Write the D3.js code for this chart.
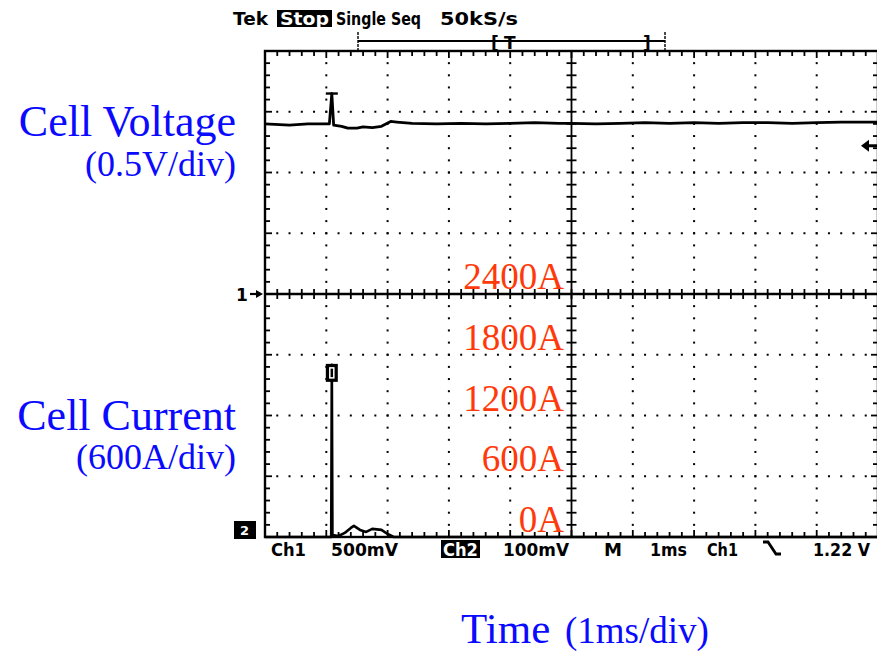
<!DOCTYPE html>
<html lang="en">
<head>
<meta charset="utf-8">
<title>Cell voltage and current</title>
<script src="https://d3js.org/d3.v7.min.js"></script>
<style>
* { margin: 0; padding: 0; }
body { background: #fff; }
svg { display: block; }
.scope { font-family: 'DejaVu Sans', sans-serif; font-weight: bold; font-size: 17px; }
.label { font-family: 'Liberation Serif', 'Times New Roman', serif; }
</style>
</head>
<body>
<script>
let w = 877, h = 652;
let plotLeft = 265, plotRight = 878, plotTop = 51, plotBottom = 537;

// screen is 10 x 8 divisions
let timeDomain = [0, 10];        // ms, 1ms/div
let voltDomain = [-2, 2];        // ch1, 0.5V/div, ground on centre line
let currentDomain = [0, 4800];   // ch2, 600A/div, 0A on bottom line

// ch1 - cell voltage (V)
let voltTime   = [0, 0.4, 0.7, 1.05, 1.09, 1.12, 1.25, 1.35, 1.5, 1.6, 1.75, 1.9, 2.05, 2.15, 2.4, 2.8, 3.2, 3.6, 4.0, 4.4, 4.8, 5.0, 5.4, 5.8, 6.2, 6.6, 7.0, 7.4, 7.8, 8.2, 8.6, 9.0, 9.4, 10];
let voltValues = [1.40, 1.39, 1.40, 1.40, 1.65, 1.39, 1.38, 1.365, 1.365, 1.375, 1.37, 1.38, 1.42, 1.415, 1.405, 1.40, 1.405, 1.40, 1.405, 1.41, 1.405, 1.405, 1.40, 1.405, 1.41, 1.405, 1.41, 1.405, 1.41, 1.41, 1.405, 1.41, 1.415, 1.415];

// ch2 - cell current (A)
let currentTime   = [0, 1.08, 1.09, 1.10, 1.2, 1.3, 1.4, 1.45, 1.55, 1.65, 1.75, 1.9, 2.0, 2.1, 10];
let currentValues = [0, 0, 1700, 20, 10, 40, 90, 110, 70, 50, 80, 70, 30, 0, 0];

let currentLabels = [0, 600, 1200, 1800, 2400];
let triggerLevel = 1.22; // V

let blue = "#0a0aff";
let red = "#ff3a0a";

let x = d3.scaleLinear().domain(timeDomain).range([plotLeft, plotRight]);
let xDiv = d3.scaleLinear().domain([0, 10]).range([plotLeft, plotRight]);
let yDiv = d3.scaleLinear().domain([-4, 4]).range([plotBottom, plotTop]);
let yV = d3.scaleLinear().domain(voltDomain).range([plotBottom, plotTop]);
let yI = d3.scaleLinear().domain(currentDomain).range([plotBottom, plotTop]);

let svg = d3.select("body").append("svg")
    .attr("width", w)
    .attr("height", h);

// ---- graticule ----
let grid = svg.append("g");
let minorX = d3.range(0, 51).map(i => i * 0.2);
let minorY = d3.range(0, 41).map(i => -4 + i * 0.2);

// dotted division lines
[1, 2, 3, 4, 6, 7, 8, 9].forEach(k => {
  grid.append("g").selectAll("rect")
    .data(minorY.slice(1, -1))
    .enter().append("rect")
    .attr("x", xDiv(k) - 1).attr("y", d => yDiv(d) - 1)
    .attr("width", 2).attr("height", 2).attr("fill", "#000");
});
[-3, -2, -1, 1, 2, 3].forEach(k => {
  grid.append("g").selectAll("rect")
    .data(minorX.slice(1, -1))
    .enter().append("rect")
    .attr("x", d => xDiv(d) - 1).attr("y", yDiv(k) - 1)
    .attr("width", 2).attr("height", 2).attr("fill", "#000");
});

// centre cross with ticks
grid.append("line")
  .attr("x1", xDiv(5)).attr("x2", xDiv(5)).attr("y1", plotTop).attr("y2", plotBottom)
  .attr("stroke", "#000").attr("stroke-width", 1.8);
grid.append("line")
  .attr("x1", plotLeft).attr("x2", plotRight).attr("y1", yDiv(0)).attr("y2", yDiv(0))
  .attr("stroke", "#000").attr("stroke-width", 2.4);
grid.append("g").selectAll("line")
  .data(minorY)
  .enter().append("line")
  .attr("x1", xDiv(5) - 5).attr("x2", xDiv(5) + 5)
  .attr("y1", d => yDiv(d)).attr("y2", d => yDiv(d))
  .attr("stroke", "#000").attr("stroke-width", 1.8);
grid.append("g").selectAll("line")
  .data(minorX)
  .enter().append("line")
  .attr("x1", d => xDiv(d)).attr("x2", d => xDiv(d))
  .attr("y1", yDiv(0) - 5).attr("y2", yDiv(0) + 5)
  .attr("stroke", "#000").attr("stroke-width", 1.8);

// border with inward ticks
grid.append("rect")
  .attr("x", plotLeft).attr("y", plotTop)
  .attr("width", plotRight - plotLeft).attr("height", plotBottom - plotTop)
  .attr("fill", "none").attr("stroke", "#000").attr("stroke-width", 2.4);
function tickLen(d) { return Math.abs(d - Math.round(d)) < 1e-6 ? 7 : 5; }
grid.append("g").selectAll("line")
  .data(minorX)
  .enter().append("line")
  .attr("x1", d => xDiv(d)).attr("x2", d => xDiv(d))
  .attr("y1", plotTop).attr("y2", d => plotTop + tickLen(d))
  .attr("stroke", "#000").attr("stroke-width", 1.8);
grid.append("g").selectAll("line")
  .data(minorX)
  .enter().append("line")
  .attr("x1", d => xDiv(d)).attr("x2", d => xDiv(d))
  .attr("y1", plotBottom).attr("y2", d => plotBottom - tickLen(d))
  .attr("stroke", "#000").attr("stroke-width", 1.8);
grid.append("g").selectAll("line")
  .data(minorY)
  .enter().append("line")
  .attr("x1", plotLeft).attr("x2", d => plotLeft + tickLen(d))
  .attr("y1", d => yDiv(d)).attr("y2", d => yDiv(d))
  .attr("stroke", "#000").attr("stroke-width", 1.8);
grid.append("g").selectAll("line")
  .data(minorY)
  .enter().append("line")
  .attr("x1", plotRight).attr("x2", d => plotRight - tickLen(d))
  .attr("y1", d => yDiv(d)).attr("y2", d => yDiv(d))
  .attr("stroke", "#000").attr("stroke-width", 1.8);

// ---- traces ----
let voltLine = d3.line().x(d => x(d[0])).y(d => yV(d[1]));
let currentLine = d3.line().x(d => x(d[0])).y(d => yI(d[1]));

svg.append("path")
  .datum(d3.zip(voltTime, voltValues))
  .attr("d", voltLine)
  .attr("fill", "none").attr("stroke", "#000")
  .attr("stroke-width", 2.8).attr("stroke-linejoin", "round");

// cap on the voltage spike
let vPeak = d3.maxIndex(voltValues);
svg.append("line")
  .attr("x1", x(voltTime[vPeak]) - 6).attr("x2", x(voltTime[vPeak]) + 6)
  .attr("y1", yV(voltValues[vPeak])).attr("y2", yV(voltValues[vPeak]))
  .attr("stroke", "#000").attr("stroke-width", 2.4);

svg.append("path")
  .datum(d3.zip(currentTime, currentValues))
  .attr("d", currentLine)
  .attr("fill", "none").attr("stroke", "#000")
  .attr("stroke-width", 2.6).attr("stroke-linejoin", "round");

// marker box at the current peak
let iPeak = d3.maxIndex(currentValues);
let px = x(currentTime[iPeak]), py = yI(currentValues[iPeak]);
svg.append("rect")
  .attr("x", px - 6).attr("y", py - 1).attr("width", 12).attr("height", 18)
  .attr("fill", "#000");
svg.append("rect")
  .attr("x", px - 2).attr("y", py + 3).attr("width", 4).attr("height", 10)
  .attr("fill", "none").attr("stroke", "#fff").attr("stroke-width", 1.5);

// ---- channel markers ----
svg.append("text").attr("class", "scope")
  .attr("x", 236).attr("y", yDiv(0) + 7).style("fill", "#000").text("1");
svg.append("line")
  .attr("x1", 250).attr("x2", 258).attr("y1", yDiv(0)).attr("y2", yDiv(0))
  .attr("stroke", "#000").attr("stroke-width", 2.2);
svg.append("path")
  .attr("d", `M263,${yDiv(0)} L256,${yDiv(0) - 4} L256,${yDiv(0) + 4} Z`)
  .attr("fill", "#000");

svg.append("rect")
  .attr("x", 234).attr("y", 521).attr("width", 22).attr("height", 18).attr("fill", "#000");
svg.append("text").attr("class", "scope")
  .attr("x", 240).attr("y", 535).style("font-size", "13px").style("fill", "#fff").text("2");

let trigY = yV(triggerLevel);
svg.append("path")
  .attr("d", `M861,${trigY} L869,${trigY - 6} L869,${trigY + 6} Z`)
  .attr("fill", "#000");
svg.append("line")
  .attr("x1", 868).attr("x2", 877).attr("y1", trigY).attr("y2", trigY)
  .attr("stroke", "#000").attr("stroke-width", 3);

// ---- scope readouts ----
let header = [
  {text: "Tek", x: 233, w: 35},
  {text: "Single Seq", x: 336, w: 85},
  {text: "50kS/s", x: 440, w: 78}
];
let status = [
  {text: "Ch1", x: 271, w: 35},
  {text: "500mV", x: 331, w: 67},
  {text: "100mV", x: 503, w: 66},
  {text: "M", x: 604, w: 18},
  {text: "1ms", x: 650, w: 37},
  {text: "Ch1", x: 707, w: 31},
  {text: "1.22 V", x: 813, w: 57}
];

svg.append("g").selectAll("text")
  .data(header).enter().append("text")
  .attr("class", "scope")
  .attr("x", d => d.x).attr("y", 25)
  .attr("textLength", d => d.w).attr("lengthAdjust", "spacingAndGlyphs")
  .style("fill", "#000")
  .text(d => d.text);
svg.append("rect").attr("x", 277).attr("y", 10).attr("width", 55).attr("height", 17).attr("fill", "#000");
svg.append("text").attr("class", "scope")
  .attr("x", 280).attr("y", 25).style("fill", "#fff")
  .attr("textLength", 49).attr("lengthAdjust", "spacingAndGlyphs").text("Stop");

svg.append("g").selectAll("text")
  .data(status).enter().append("text")
  .attr("class", "scope")
  .attr("x", d => d.x).attr("y", 556)
  .attr("textLength", d => d.w).attr("lengthAdjust", "spacingAndGlyphs")
  .style("fill", "#000")
  .text(d => d.text);
svg.append("rect").attr("x", 441).attr("y", 540).attr("width", 39).attr("height", 18).attr("fill", "#000");
svg.append("text").attr("class", "scope")
  .attr("x", 443).attr("y", 556).style("fill", "#fff")
  .attr("textLength", 35).attr("lengthAdjust", "spacingAndGlyphs").text("Ch2");
// falling-edge trigger symbol
svg.append("path")
  .attr("d", "M763,542 L768,542 L776,554 L781,554")
  .attr("fill", "none").attr("stroke", "#000").attr("stroke-width", 2.8);

// record-length bar
svg.append("line").attr("x1", 358).attr("x2", 665).attr("y1", 41).attr("y2", 41)
  .attr("stroke", "#000").attr("stroke-width", 2);
[358, 665].forEach(bx => {
  svg.append("line").attr("x1", bx).attr("x2", bx).attr("y1", 32).attr("y2", 50)
    .attr("stroke", "#000").attr("stroke-width", 1.4).attr("stroke-dasharray", "3,1");
});
[{t: "[", x: 491}, {t: "T", x: 504}, {t: "]", x: 643}].forEach(m => {
  svg.append("text").attr("class", "scope").attr("x", m.x).attr("y", 49)
    .style("fill", "#000").text(m.t);
});

// ---- labels ----
function label(text, xPos, yPos, size, color, anchor) {
  svg.append("text").attr("class", "label")
    .attr("x", xPos).attr("y", yPos)
    .attr("font-size", size).attr("fill", color)
    .attr("text-anchor", anchor)
    .text(text);
}
label("Cell Voltage", 236, 136, 44, blue, "end");
label("(0.5V/div)", 236, 176, 36, blue, "end");
label("Cell Current", 236, 430, 44, blue, "end");
label("(600A/div)", 236, 469, 36, blue, "end");
label("Time", 461, 643, 43, blue, "start");
label("(1ms/div)", 565, 643, 37, blue, "start");

svg.append("g").selectAll("text")
  .data(currentLabels).enter().append("text")
  .attr("class", "label")
  .attr("x", 564).attr("y", d => yI(d) - 5)
  .attr("font-size", 37).attr("fill", red)
  .attr("text-anchor", "end")
  .text(d => d + "A");
</script>
</body>
</html>
